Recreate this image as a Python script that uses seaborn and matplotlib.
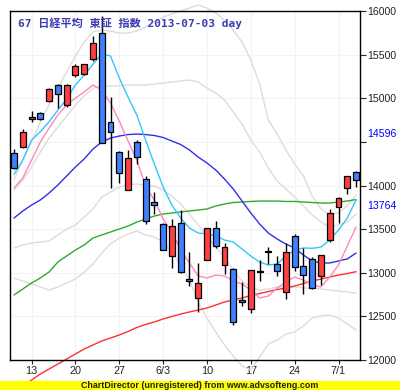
import numpy as np
import pandas as pd
import seaborn as sns
import matplotlib.pyplot as plt
from matplotlib.patches import Rectangle

# trading days 2013-05-09 .. 2013-07-03
dates = pd.bdate_range('2013-05-09', '2013-07-03')
week_idx = [2, 7, 12, 17, 22, 27, 32, 37]
week_labels = ['13', '20', '27', '6/3', '10', '17', '24', '7/1']

opens = [14369, 14445, 14759, 14827, 14965, 15152, 14922, 15263, 15274, 15446,
         15744, 14731, 14379, 13945, 14494, 14071, 13811, 13555, 13188, 13566,
         12925, 12707, 13146, 13509, 13085, 13040, 12686, 12581, 13020, 13234,
         13100, 12783, 13421, 13080, 13154, 12966, 13379, 13750, 13968, 14151]
highs = [14418, 14647, 14854, 14842, 15121, 15160, 15160, 15396, 15396, 15713,
         15943, 15011, 14395, 14407, 14521, 14109, 13925, 13566, 13619, 13719,
         13234, 13108, 13513, 13593, 13337, 13051, 12897, 13031, 13146, 13299,
         13192, 13337, 13440, 13287, 13184, 13207, 13727, 13872, 14109, 14161]
lows = [14190, 14426, 14731, 14751, 14957, 14885, 14903, 15249, 15262, 15427,
        14484, 13975, 14025, 13945, 14243, 13559, 13670, 13257, 13058, 13001,
        12852, 12547, 13146, 13287, 12986, 12401, 12619, 12542, 12909, 13100,
        12966, 12696, 13023, 12753, 12818, 12860, 13352, 13567, 13899, 13986]
closes = [14197, 14609, 14785, 14759, 15102, 15045, 15148, 15366, 15389, 15629,
          14484, 14616, 14140, 14311, 14330, 13590, 13773, 13257, 13532, 13012,
          12902, 12879, 13509, 13310, 13295, 12439, 12665, 13031, 13005, 13253,
          13017, 13234, 13062, 12970, 12829, 13207, 13685, 13853, 14109, 14063]

ma_cyan = [14128, 14292, 14521, 14616, 14731, 14865, 14991, 15152, 15266, 15389,
           15507, 15484, 15232, 15014, 14808, 14521, 14246, 13983, 13776, 13627,
           13513, 13455, 13444, 13421, 13375, 13352, 13272, 13192, 13123, 13089,
           13100, 13192, 13261, 13284, 13280, 13295, 13375, 13490, 13627, 13834]
ma_pink = [13971, 14086, 14292, 14498, 14659, 14808, 14922, 15003, 15071, 15152,
           15094, 14945, 14739, 14510, 14292, 13994, 13834, 13616, 13467, 13261,
           13112, 12963, 12940, 12974, 12963, 12905, 12871, 12802, 12711, 12733,
           12825, 12894, 12951, 12917, 12860, 12837, 12951, 13089, 13306, 13524]
ma_blue = [13627, 13708, 13776, 13834, 13914, 14006, 14109, 14212, 14304, 14418,
           14498, 14544, 14567, 14584, 14590, 14584, 14573, 14550, 14510, 14470,
           14407, 14326, 14258, 14178, 14074, 13960, 13822, 13685, 13559, 13455,
           13387, 13329, 13284, 13203, 13135, 13112, 13112, 13135, 13158, 13226]
ma_green = [12745, 12814, 12883, 12940, 13009, 13123, 13192, 13261, 13318, 13398,
            13433, 13467, 13501, 13535, 13581, 13616, 13650, 13673, 13685, 13696,
            13708, 13719, 13731, 13765, 13788, 13805, 13811, 13817, 13822, 13822,
            13822, 13817, 13817, 13811, 13805, 13799, 13799, 13811, 13822, 13839]
ma_red = [11645, 11702, 11771, 11840, 11897, 11954, 12011, 12069, 12126, 12172,
          12218, 12252, 12287, 12327, 12373, 12407, 12436, 12470, 12499, 12527,
          12550, 12573, 12596, 12630, 12665, 12688, 12711, 12739, 12762, 12785,
          12808, 12825, 12848, 12877, 12905, 12928, 12951, 12974, 12991, 13012]
band_up2 = [14063, 14292, 14498, 14728, 14922, 15117, 15300, 15484, 15644, 15759,
            15782, 15770, 15747, 15747, 15770, 15816, 15873, 15931, 15965, 16000,
            16034, 16068, 16034, 15977, 15896, 15782, 15644, 15438, 15163, 14750,
            14590, 14407, 14246, 14109, 13879, 13734, 13665, 13688, 13768, 13891]
band_up1 = [13948, 14063, 14212, 14384, 14544, 14670, 14796, 14922, 15025, 15117,
            15140, 15140, 15140, 15152, 15152, 15152, 15163, 15174, 15186, 15197,
            15209, 15186, 15117, 15060, 14980, 14842, 14705, 14521, 14384, 14200,
            14051, 13960, 13868, 13765, 13662, 13581, 13524, 13547, 13581, 13673]
band_dn1 = [13284, 13318, 13341, 13352, 13364, 13433, 13501, 13547, 13639, 13731,
            13868, 13925, 13983, 14006, 14017, 14006, 13994, 13948, 13879, 13788,
            13673, 13547, 13421, 13295, 13180, 13031, 12905, 12837, 12802, 12814,
            12837, 12837, 12837, 12825, 12825, 12814, 12802, 12791, 12779, 12768]
band_dn2 = [12940, 12905, 12871, 12837, 12802, 12837, 12882, 12928, 13008, 13100,
            13226, 13329, 13398, 13444, 13478, 13433, 13410, 13352, 13238, 13089,
            12917, 12665, 12481, 12321, 12172, 12046, 11931, 11885, 12034, 12183,
            12229, 12298, 12321, 12390, 12481, 12504, 12516, 12481, 12413, 12344]

df = pd.DataFrame({'i': np.arange(len(dates)), 'open': opens, 'high': highs,
                   'low': lows, 'close': closes})

sns.set_style('white')
plt.rcParams['font.family'] = ['Liberation Sans', 'DejaVu Sans']

fig = plt.figure(figsize=(4, 3.9), dpi=100)
ax = fig.add_axes([0.025, 0.0769, 0.875, 0.8949])

# faint grid
for w in week_idx:
    ax.axvline(w, color='#f3f3f3', lw=0.8, zorder=0)
for yv in range(12500, 16000, 500):
    ax.axhline(yv, color='#f3f3f3', lw=0.8, zorder=0)

# moving averages / bands (drawn unclipped like the original)
lines = [(band_up2, '#dcdcdc'), (band_up1, '#dcdcdc'), (band_dn1, '#dcdcdc'),
         (band_dn2, '#dcdcdc'), (ma_red, '#ff3030'), (ma_green, '#30a830'),
         (ma_blue, '#3030e8'), (ma_pink, '#ff88bb'), (ma_cyan, '#30c8ff')]
for vals, col in lines:
    sns.lineplot(x=df['i'], y=vals, color=col, lw=1.0, ax=ax, clip_on=False, zorder=2)

# candlesticks
up = df['close'] >= df['open']
ax.vlines(df['i'], df['low'], df['high'], color='black', lw=1.0, zorder=3)
ax.bar(df['i'], (df['close'] - df['open']).abs().clip(lower=15),
       bottom=df[['open', 'close']].min(axis=1), width=0.68,
       color=np.where(up, '#ff4040', '#4080ff'), edgecolor='black',
       linewidth=0.9, zorder=4)

ax.set_xlim(-0.46, 39.45)
ax.set_ylim(12000, 16000)
ax.set_xlabel('')
ax.set_ylabel('')

ax.set_xticks(week_idx)
ax.set_xticklabels(week_labels, fontsize=7.8, color='#222222')
yt = list(range(12000, 16001, 500))
ax.set_yticks(yt)
ax.set_yticklabels(['' if v == 14500 else str(v) for v in yt], fontsize=7.6, color='#222222')
ax.yaxis.tick_right()
ax.tick_params(axis='y', direction='out', length=4, width=0.8, pad=1.5, right=True, left=False)
ax.tick_params(axis='x', direction='out', length=3, width=0.8, pad=1.5, bottom=True)

for val in [14596, 13764]:
    ax.annotate(str(val), xy=(1, val), xycoords=('axes fraction', 'data'),
                xytext=(5.2, 0), textcoords='offset points', va='center',
                ha='left', color='#0000ff', fontsize=7.6)

for s in ax.spines.values():
    s.set_color('black')
    s.set_linewidth(1.0)

ax.text(0.023, 0.966, '67 日経平均 東証 指数 2013-07-03 day', transform=ax.transAxes,
        fontsize=8, fontweight='bold', color='#3c3cb4', va='center', ha='left',
        family=['DejaVu Sans Mono', 'Noto Sans CJK JP'], zorder=6)

fig.patches.append(Rectangle((0, 0), 1, 9 / 390, transform=fig.transFigure,
                             color='#ffff00', zorder=10))
fig.text(0.5, 4.5 / 390, 'ChartDirector (unregistered) from www.advsofteng.com',
         ha='center', va='center', fontsize=6.4, fontweight='bold', color='#202020', zorder=11)

fig.savefig('out.png', dpi=100)
